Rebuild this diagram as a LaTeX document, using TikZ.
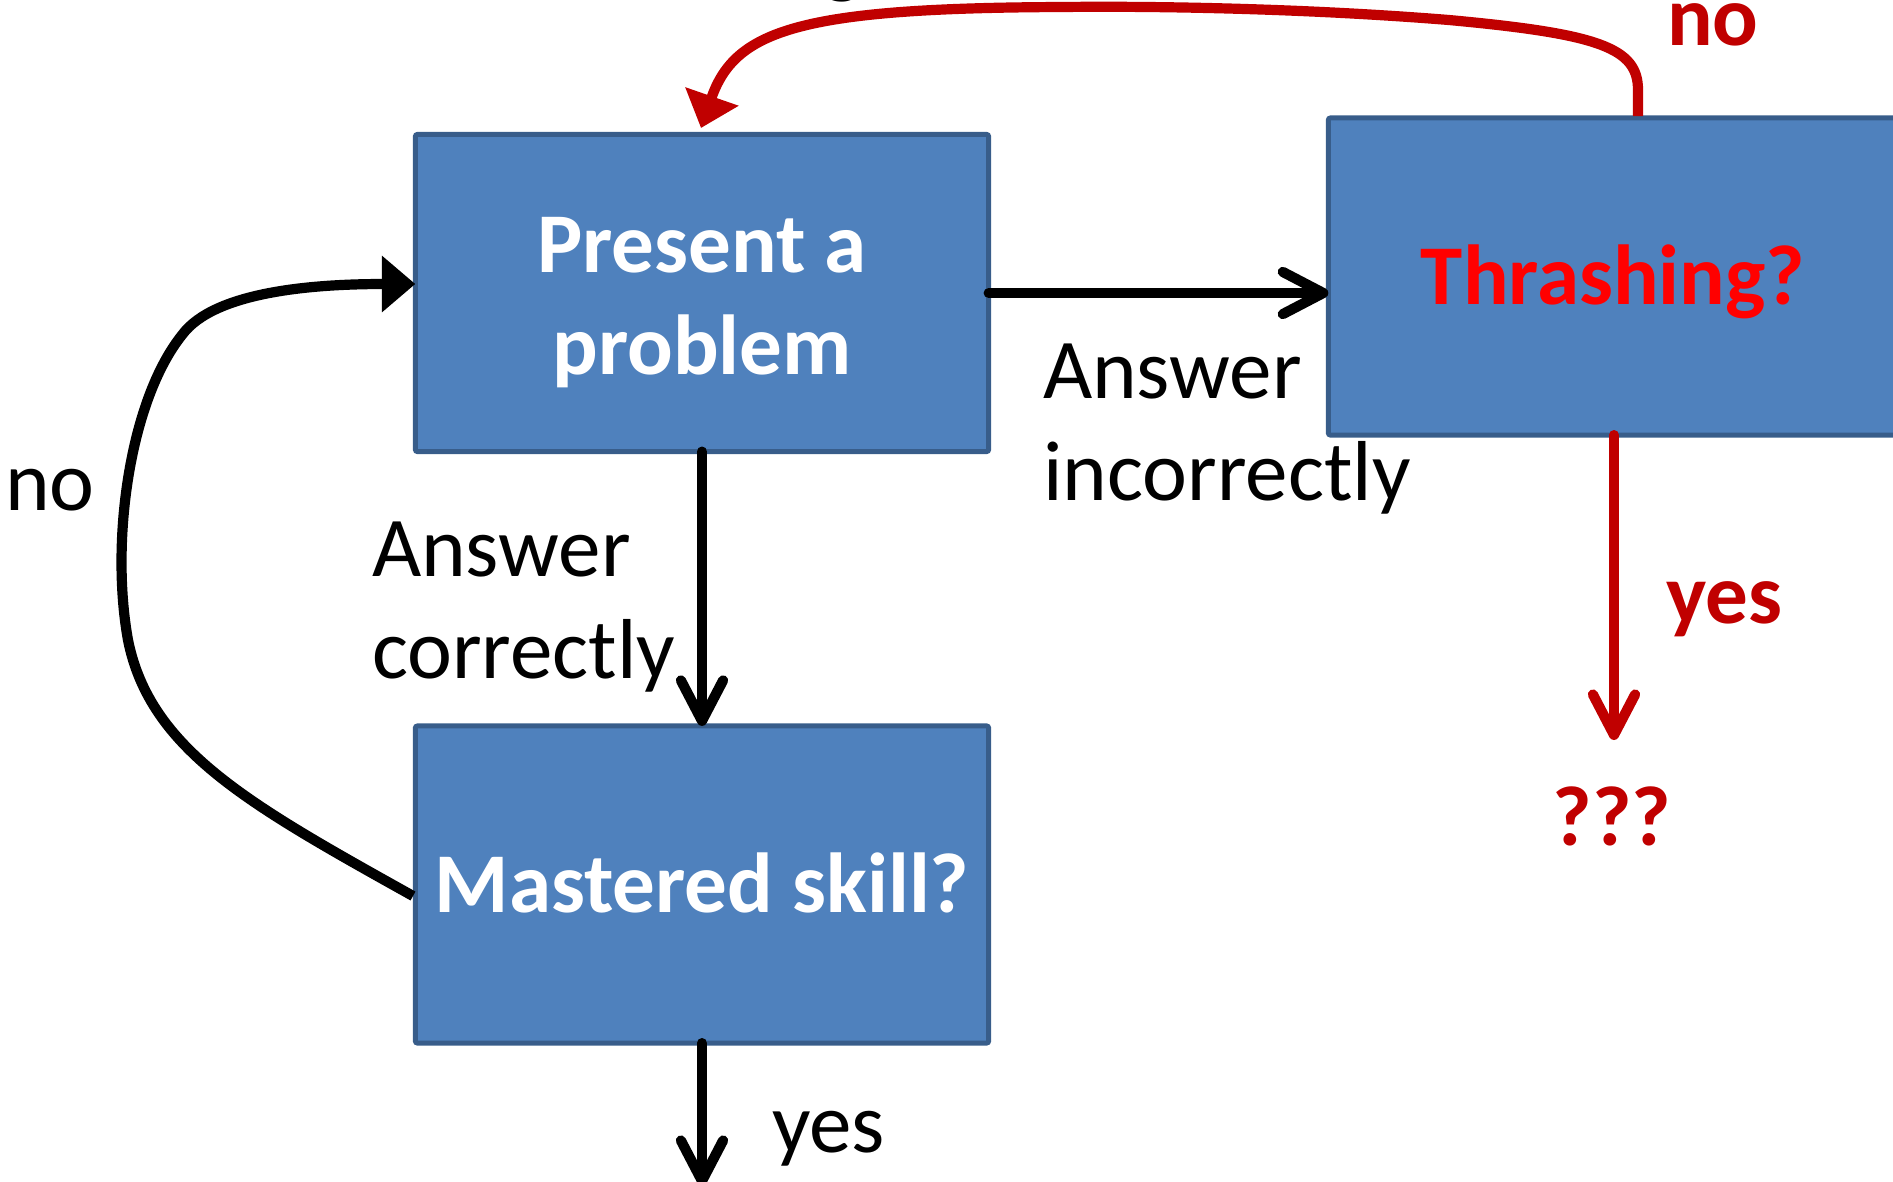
\documentclass[tikz,border=0pt]{standalone}
\usepackage{fontspec}
\setmainfont{Carlito}
\usetikzlibrary{arrows.meta}
\definecolor{boxfill}{HTML}{4F81BD}
\definecolor{boxline}{HTML}{385D8A}
\definecolor{darkred}{HTML}{C00000}
\definecolor{brightred}{HTML}{FF0000}
\tikzset{
  box/.style={draw=boxline, line width=1.4pt, fill=boxfill, minimum width=5.73cm,
    minimum height=3.17cm, inner sep=0pt, outer sep=0pt, rounded corners=0.6pt},
  txt/.style={inner sep=0pt, outer sep=0pt, font=\fontsize{24.2}{29}\selectfont},
  txtb/.style={txt, font=\fontsize{24.2}{29}\selectfont\bfseries},
  blk/.style={line width=2.9pt, black, line cap=round, line join=round},
  redl/.style={line width=2.9pt, darkred, line cap=round, line join=round},
  barb/.style={-{Straight Barb[length=11.5pt,width=12pt,line cap=round,line join=round]}},
  tri/.style={-{Triangle[length=9.5pt,width=15.5pt]}},
}
\begin{document}
\begin{tikzpicture}[x=0.01cm,y=-0.01cm]
\useasboundingbox (0,0) rectangle (1893,1181);
% boxes
\node[box] (b1) at (702,293) {};
\node[box] (b2) at (702,884.5) {};
\node[box] (b3) at (1615,276.5) {};
% box texts
\node[txtb, white, anchor=base] (t1a) at (702,272) {Present a};
\node[txtb, white, anchor=base] (t1b) at (702,374) {problem};
\node[txtb, white, anchor=base] (t2) at (702,912) {Mastered skill?};
\node[txtb, brightred, anchor=base] (t3) at (1613,304) {Thrashing?};
% free ends
\coordinate (bend) at (702,1186);
\coordinate (rend) at (1614,740);
\coordinate (rstart) at (1638,116);
\coordinate (rtip) at (701,128);
\coordinate (lstart) at (413,896);
% connectors
\draw[blk, barb] (b1.south) -- (b2.north);
\draw[blk, barb] (b1.east) -- (b1.east -| b3.west);
\draw[blk, barb] (b2.south) -- (bend);
\draw[redl, barb] (b3.south -| rend) -- (rend);
\draw[redl, line cap=butt, tri] (rstart) -- (1638,90)
  .. controls (1638,48) and (1600,34) .. (1449,20)
  .. controls (1300,8) and (1150,6) .. (1062,7)
  .. controls (800,8) and (735,30) .. (rtip);
\draw[blk, line cap=butt, tri] (lstart)
  .. controls (250,805) and (150,750) .. (128,640)
  .. controls (110,540) and (130,400) .. (182,335)
  .. controls (215,290) and (320,284) .. (b1.west |- 0,284);
% labels
\node[txt, anchor=base west] (l1a) at (372,576) {Answer};
\node[txt, anchor=base west] (l1b) at (372,678) {correctly};
\node[txt, anchor=base west] (l2a) at (1043,398) {Answer};
\node[txt, anchor=base west] (l2b) at (1043,500) {incorrectly};
\node[txt, anchor=base west] (l3) at (772,1152) {yes};
\node[txt, anchor=base west] (l4) at (5,510) {no};
\node[txtb, darkred, anchor=base west] (l5) at (1666,623) {yes};
\node[txtb, darkred, anchor=base] (l6) at (1612,845) {???};
\node[txtb, darkred, anchor=base west] (l7) at (1667,45) {no};
\node[txt, anchor=base west] (l8) at (822,-13) {g};
\end{tikzpicture}
\end{document}
